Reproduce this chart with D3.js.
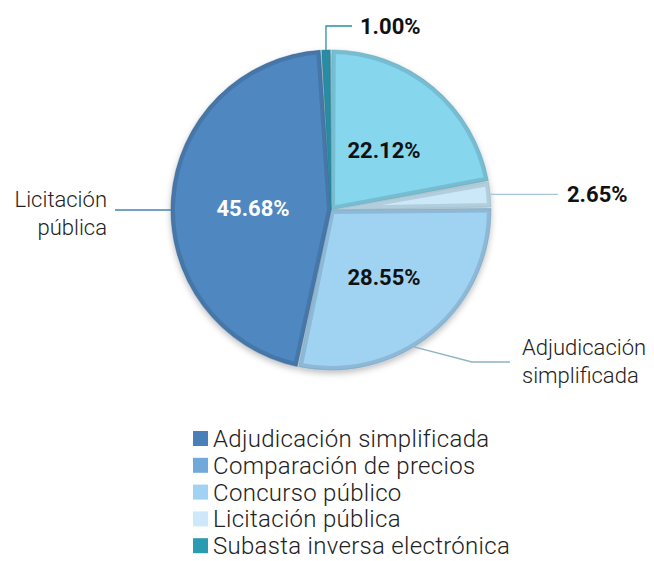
<!DOCTYPE html>
<html>
<head>
<meta charset="utf-8">
<script src="https://cdn.jsdelivr.net/npm/d3@7"></script>
<style>
  body { margin: 0; background: #fff; }
  svg { font-family: Roboto, "Noto Sans", sans-serif; }
</style>
</head>
<body>
<div id="chart"></div>
<script>
// slices, clockwise from 12 o'clock
const sliceValues = [22.12, 2.65, 28.55, 45.68, 1.00];
const sliceLabels = ["22.12%", "2.65%", "28.55%", "45.68%", "1.00%"];
const sliceColors = ["#86d6ee", "#cae8f8", "#a0d2f2", "#4f87c0", "#2e9fb8"];

// legend entries
const legendNames = ["Adjudicación simplificada", "Comparación de precios", "Concurso público",
    "Licitación pública", "Subasta inversa electrónica"];
const legendColors = ["#4a80ba", "#72a9dc", "#a0d2f2", "#cde9f9", "#2b9bb3"];

const width = 654, height = 561;
const cx = 331, cy = 210, r = 160;

const svg = d3.select("#chart").append("svg")
    .attr("width", width)
    .attr("height", height);

const defs = svg.append("defs");
const shadow = defs.append("filter").attr("id", "shadow")
    .attr("x", "-20%").attr("y", "-20%").attr("width", "140%").attr("height", "140%");
shadow.append("feDropShadow")
    .attr("dx", 0).attr("dy", 3).attr("stdDeviation", 3)
    .attr("flood-color", "#000").attr("flood-opacity", 0.25);

const pie = d3.pie().sort(null).value(d => d);
const arcs = pie(sliceValues);
const arc = d3.arc().innerRadius(0).outerRadius(r).padAngle(0.01).padRadius(r);

const g = svg.append("g").attr("transform", `translate(${cx},${cy})`);

const slices = g.append("g").attr("filter", "url(#shadow)");

arcs.forEach((a, i) => {
    const clipId = "clip" + i;
    defs.append("clipPath").attr("id", clipId)
        .append("path").attr("d", arc(a));
    const base = d3.color(sliceColors[i]);
    slices.append("path")
        .attr("d", arc(a))
        .attr("fill", base.formatHex())
        .attr("stroke", base.darker(0.35).formatHex())
        .attr("stroke-width", 8)
        .attr("stroke-linejoin", "miter")
        .attr("clip-path", `url(#${clipId})`);
    // thin edge line
    slices.append("path")
        .attr("d", arc(a))
        .attr("fill", "none")
        .attr("stroke", base.darker(0.7).formatHex())
        .attr("stroke-width", 1.2)
        .attr("opacity", 0.5);
});

// labels inside slices
const inside = [
    { i: 0, x: 384, y: 150, fill: "#111" },
    { i: 2, x: 384, y: 277, fill: "#111" },
    { i: 3, x: 253, y: 208, fill: "#fff" }
];
inside.forEach(d => {
    svg.append("text")
        .attr("x", d.x).attr("y", d.y)
        .attr("dy", "0.35em")
        .attr("text-anchor", "middle")
        .style("font-size", "22px")
        .style("font-weight", "bold")
        .style("fill", d.fill)
        .text(sliceLabels[d.i]);
});

// outside labels with leader lines
function leader(points, color) {
    svg.append("path")
        .attr("d", d3.line()(points))
        .attr("fill", "none")
        .attr("stroke", color)
        .attr("stroke-width", 1.3);
}

// 1.00%
const a4 = arcs[4];
const ang4 = (a4.startAngle + a4.endAngle) / 2;
const p4 = [cx + r * Math.sin(ang4), cy - r * Math.cos(ang4)];
leader([p4, [p4[0], 26], [352, 26]], "#2a8fa6");
svg.append("text").attr("x", 360).attr("y", 34)
    .style("font-size", "22px").style("font-weight", "bold").style("fill", "#111")
    .text(sliceLabels[4]);

// 2.65%
const a1 = arcs[1];
const ang1 = (a1.startAngle + a1.endAngle) / 2;
const p1 = [cx + r * Math.sin(ang1), cy - r * Math.cos(ang1)];
leader([p1, [558, p1[1]]], "#a9c7d8");
svg.append("text").attr("x", 567).attr("y", p1[1] + 8)
    .style("font-size", "22px").style("font-weight", "bold").style("fill", "#111")
    .text(sliceLabels[1]);

// Licitación pública (points to the largest slice)
leader([[115, 210], [cx - r, 210]], "#4a80b4");
svg.append("text").attr("x", 107).attr("y", 207)
    .attr("text-anchor", "end")
    .style("font-size", "22px").style("font-weight", 300).style("fill", "#222")
    .selectAll("tspan").data(["Licitación", "pública"]).join("tspan")
    .attr("x", 107).attr("dy", (d, i) => i ? 28 : 0)
    .text(d => d);

// Adjudicación simplificada
const a2 = arcs[2];
const ang2 = a2.startAngle + (a2.endAngle - a2.startAngle) * 0.58;
const p2 = [cx + r * Math.sin(ang2), cy - r * Math.cos(ang2)];
leader([p2, [472, 362], [510, 362]], "#8fb2c4");
svg.append("text").attr("x", 522).attr("y", 355)
    .style("font-size", "22px").style("font-weight", 300).style("fill", "#222")
    .selectAll("tspan").data(["Adjudicación", "simplificada"]).join("tspan")
    .attr("x", 522).attr("dy", (d, i) => i ? 28 : 0)
    .text(d => d);

// legend
const legend = svg.append("g").attr("transform", "translate(193,431)");
const rowH = 26.8;
legendNames.forEach((name, i) => {
    legend.append("rect")
        .attr("x", 0).attr("y", i * rowH)
        .attr("width", 15).attr("height", 15)
        .style("fill", legendColors[i]);
    legend.append("text")
        .attr("x", 20).attr("y", i * rowH + 16)
        .style("font-size", "24px")
        .style("font-weight", 300)
        .style("letter-spacing", "0.3px")
        .style("fill", "#222")
        .text(name);
});
</script>
</body>
</html>
